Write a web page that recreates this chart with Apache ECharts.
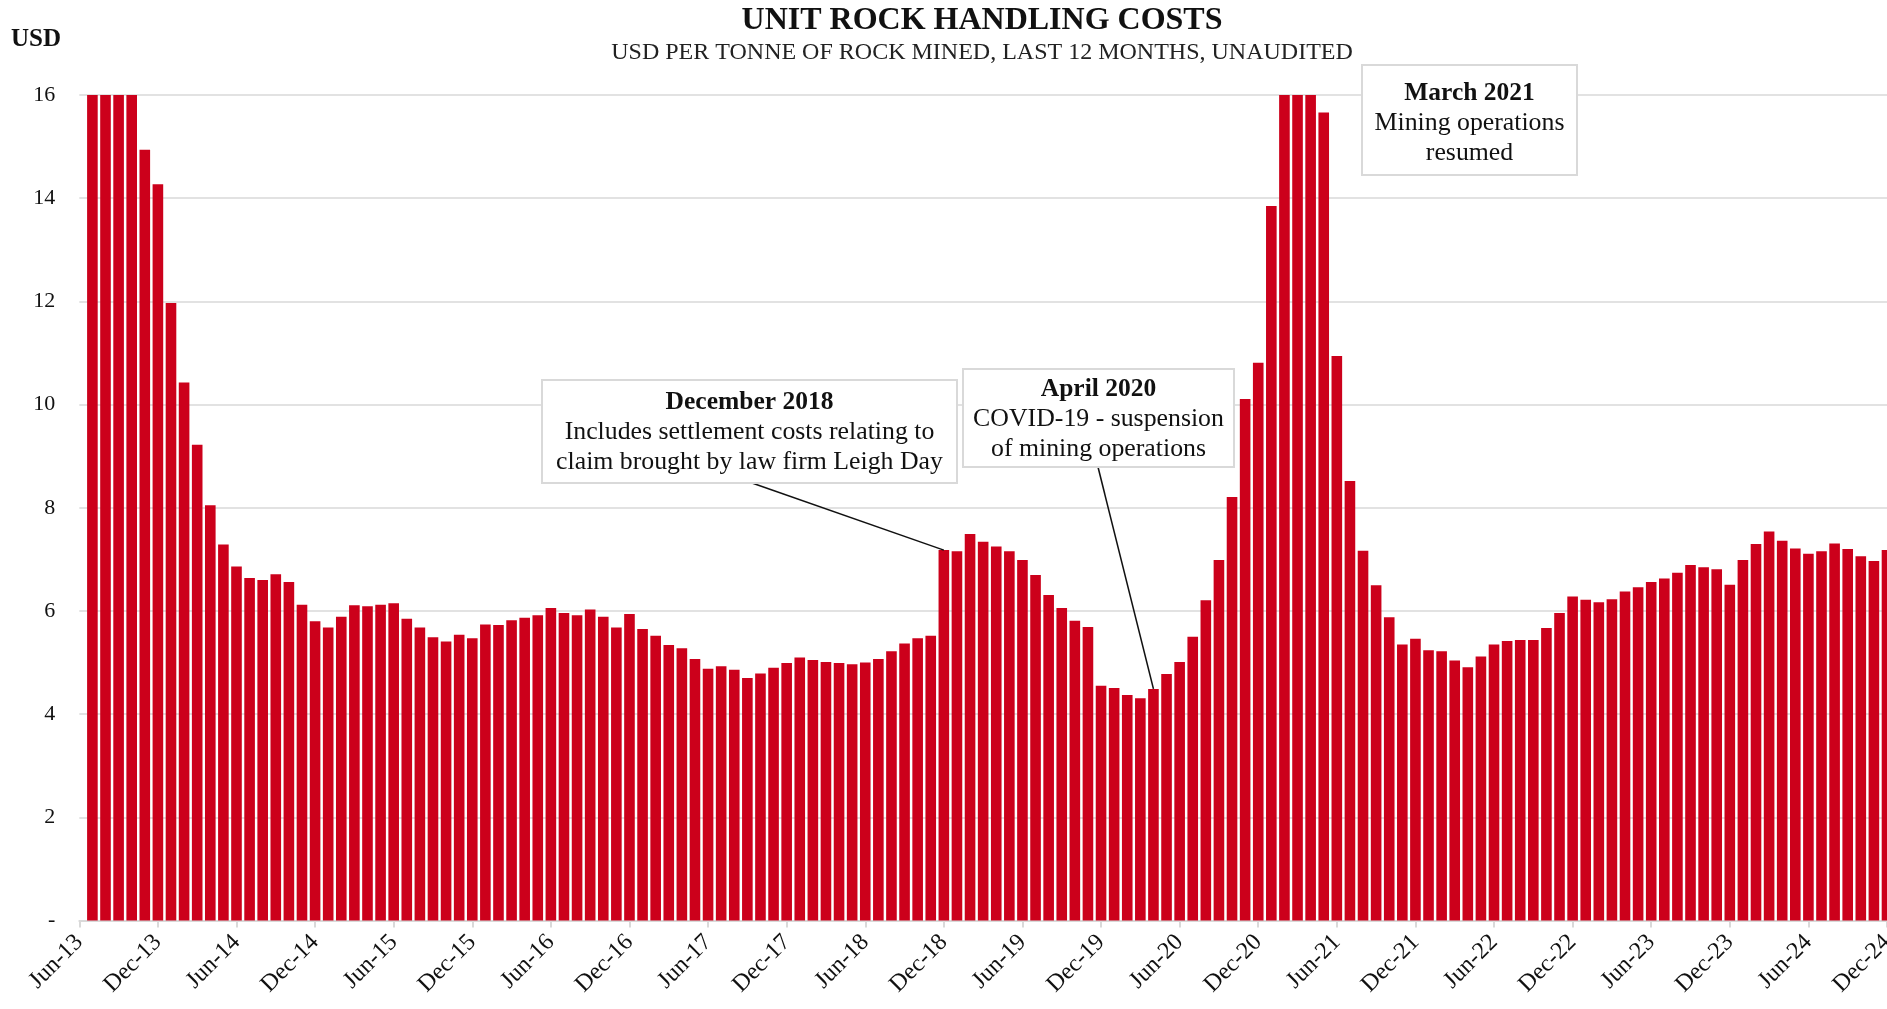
<!DOCTYPE html>
<html>
<head>
<meta charset="utf-8">
<title>Unit rock handling costs</title>
<script src="https://cdn.jsdelivr.net/npm/echarts@6/dist/echarts.min.js"></script>
<style>
    html, body { margin: 0; padding: 0; background: #fff; }
    #chart { width: 1887px; height: 1009px; }
</style>
</head>
<body>
<div id="chart"></div>
<script>
// months, Jun-13 .. Dec-24 (Jun-13 has no bar)
var months = [
    "Jun-13", "Jul-13", "Aug-13", "Sep-13", "Oct-13", "Nov-13", "Dec-13",
    "Jan-14", "Feb-14", "Mar-14", "Apr-14", "May-14", "Jun-14", "Jul-14", "Aug-14", "Sep-14", "Oct-14", "Nov-14", "Dec-14",
    "Jan-15", "Feb-15", "Mar-15", "Apr-15", "May-15", "Jun-15", "Jul-15", "Aug-15", "Sep-15", "Oct-15", "Nov-15", "Dec-15",
    "Jan-16", "Feb-16", "Mar-16", "Apr-16", "May-16", "Jun-16", "Jul-16", "Aug-16", "Sep-16", "Oct-16", "Nov-16", "Dec-16",
    "Jan-17", "Feb-17", "Mar-17", "Apr-17", "May-17", "Jun-17", "Jul-17", "Aug-17", "Sep-17", "Oct-17", "Nov-17", "Dec-17",
    "Jan-18", "Feb-18", "Mar-18", "Apr-18", "May-18", "Jun-18", "Jul-18", "Aug-18", "Sep-18", "Oct-18", "Nov-18", "Dec-18",
    "Jan-19", "Feb-19", "Mar-19", "Apr-19", "May-19", "Jun-19", "Jul-19", "Aug-19", "Sep-19", "Oct-19", "Nov-19", "Dec-19",
    "Jan-20", "Feb-20", "Mar-20", "Apr-20", "May-20", "Jun-20", "Jul-20", "Aug-20", "Sep-20", "Oct-20", "Nov-20", "Dec-20",
    "Jan-21", "Feb-21", "Mar-21", "Apr-21", "May-21", "Jun-21", "Jul-21", "Aug-21", "Sep-21", "Oct-21", "Nov-21", "Dec-21",
    "Jan-22", "Feb-22", "Mar-22", "Apr-22", "May-22", "Jun-22", "Jul-22", "Aug-22", "Sep-22", "Oct-22", "Nov-22", "Dec-22",
    "Jan-23", "Feb-23", "Mar-23", "Apr-23", "May-23", "Jun-23", "Jul-23", "Aug-23", "Sep-23", "Oct-23", "Nov-23", "Dec-23",
    "Jan-24", "Feb-24", "Mar-24", "Apr-24", "May-24", "Jun-24", "Jul-24", "Aug-24", "Sep-24", "Oct-24", "Nov-24", "Dec-24"
];

// USD per tonne (bars above 16 are cut at the axis max)
var costs = [
    null, 16, 16, 16, 16, 14.94, 14.27,
    11.97, 10.43, 9.22, 8.05, 7.29, 6.86, 6.64, 6.60, 6.71, 6.56, 6.12, 5.80,
    5.68, 5.89, 6.11, 6.09, 6.12, 6.15, 5.85, 5.68, 5.49, 5.41, 5.54, 5.47,
    5.74, 5.73, 5.82, 5.87, 5.92, 6.06, 5.96, 5.92, 6.03, 5.89, 5.68, 5.94,
    5.65, 5.52, 5.34, 5.28, 5.07, 4.88, 4.93, 4.86, 4.70, 4.79, 4.90, 4.99,
    5.10, 5.05, 5.01, 4.99, 4.97, 5.00, 5.07, 5.22, 5.37, 5.47, 5.52, 7.18,
    7.16, 7.49, 7.34, 7.25, 7.16, 6.99, 6.70, 6.31, 6.06, 5.81, 5.69, 4.55,
    4.51, 4.37, 4.31, 4.49, 4.78, 5.01, 5.50, 6.21, 6.99, 8.21, 10.11, 10.81,
    13.85, 16, 16, 16, 15.66, 10.94, 8.52, 7.17, 6.50, 5.88, 5.35, 5.46,
    5.24, 5.22, 5.04, 4.91, 5.12, 5.35, 5.42, 5.44, 5.44, 5.67, 5.96, 6.28,
    6.22, 6.17, 6.23, 6.38, 6.46, 6.56, 6.63, 6.74, 6.89, 6.85, 6.81, 6.51,
    6.99, 7.30, 7.54, 7.36, 7.21, 7.11, 7.16, 7.31, 7.20, 7.06, 6.97, 7.18
];

// call-out notes: month they point at (null = no leader line)
var notes = [
    { month: "Dec-18", head: "December 2018", lines: ["Includes settlement costs relating to", "claim brought by law firm Leigh Day"] },
    { month: "Apr-20", head: "April 2020", lines: ["COVID-19 - suspension", "of mining operations"] },
    { month: null, head: "March 2021", lines: ["Mining operations", "resumed"] }
];

var FONT = "'Liberation Serif', 'DejaVu Serif', serif";
var RED = "#cc001b";
var GRID = "#d9d9d9";

// box layout for each note: x, y, w, h, first text line offset, leader start
var boxes = [
    { x: 542, y: 380, w: 415, h: 103, first: 22, from: [752, 483] },
    { x: 963, y: 369, w: 271, h: 98, first: 20, from: [1098, 467] },
    { x: 1362, y: 65, w: 215, h: 110, first: 28, from: null }
];
var lineGap = 30;

var chart = echarts.init(document.getElementById("chart"), null, { renderer: "canvas" });

function noteGraphic(note, box) {
    var cx = box.x + box.w / 2;
    var firstY = box.y + box.first;
    var children = [{
        type: "rect", z: 100,
        shape: { x: box.x, y: box.y, width: box.w, height: box.h },
        style: { fill: "#fff", stroke: GRID, lineWidth: 2 }
    }, {
        type: "text", z: 101,
        style: {
            text: note.head, x: cx, y: firstY, align: "center", verticalAlign: "middle",
            font: "bold 25.5px " + FONT, fill: "#111"
        }
    }];
    note.lines.forEach(function(t, k) {
        children.push({
            type: "text", z: 101,
            style: {
                text: t, x: cx, y: firstY + lineGap * (k + 1), align: "center", verticalAlign: "middle",
                font: "25.8px " + FONT, fill: "#111"
            }
        });
    });
    return { type: "group", z: 100, children: children };
}

var option = {
    animation: false,
    backgroundColor: "#fff",
    grid: { left: 79.3, right: 0, top: 95, bottom: 88.4, containLabel: false, outerBoundsMode: "none" },
    xAxis: {
        type: "category",
        data: months,
        boundaryGap: false,
        axisLine: { lineStyle: { color: GRID, width: 2 } },
        axisTick: { show: true, interval: 5, length: 7, lineStyle: { color: GRID, width: 2 } },
        axisLabel: {
            interval: 5, rotate: 45, margin: 18,
            fontFamily: FONT, fontSize: 24, color: "#111"
        },
        splitLine: { show: false }
    },
    yAxis: {
        type: "value",
        min: 0, max: 16, interval: 2,
        axisLine: { show: false },
        axisTick: { show: false },
        splitLine: { lineStyle: { color: GRID, width: 1.5 } },
        axisLabel: {
            margin: 24, fontFamily: FONT, fontSize: 22, color: "#111",
            formatter: function(v) { return v === 0 ? "-" : String(v); }
        }
    },
    series: [{
        name: "Unit rock handling costs",
        type: "bar",
        data: costs,
        barCategoryGap: "19%",
        clip: true,
        itemStyle: { color: RED },
        emphasis: { disabled: true }
    }],
    graphic: [{
        type: "text",
        style: { text: "UNIT ROCK HANDLING COSTS", x: 982, y: 21, align: "center", verticalAlign: "middle",
            font: "bold 32px " + FONT, fill: "#111" }
    }, {
        type: "text",
        style: { text: "USD PER TONNE OF ROCK MINED, LAST 12 MONTHS, UNAUDITED", x: 982, y: 52.5, align: "center",
            verticalAlign: "middle", font: "24px " + FONT, fill: "#222" }
    }, {
        type: "text",
        style: { text: "USD", x: 11, y: 40, align: "left", verticalAlign: "middle",
            font: "bold 25px " + FONT, fill: "#111" }
    }]
};

chart.setOption(option);

// notes + leader lines, the end point comes from the bar scale
var extra = [];
notes.forEach(function(note, k) {
    var box = boxes[k];
    if (note.month && box.from) {
        var idx = months.indexOf(note.month);
        var p = chart.convertToPixel({ seriesIndex: 0 }, [idx, costs[idx]]);
        extra.push({
            type: "line", z: 90,
            shape: { x1: box.from[0], y1: box.from[1], x2: p[0], y2: p[1] },
            style: { stroke: "#111", lineWidth: 1.5 }
        });
    }
    extra.push(noteGraphic(note, box));
});
chart.setOption({ graphic: option.graphic.concat(extra) });
</script>
</body>
</html>
